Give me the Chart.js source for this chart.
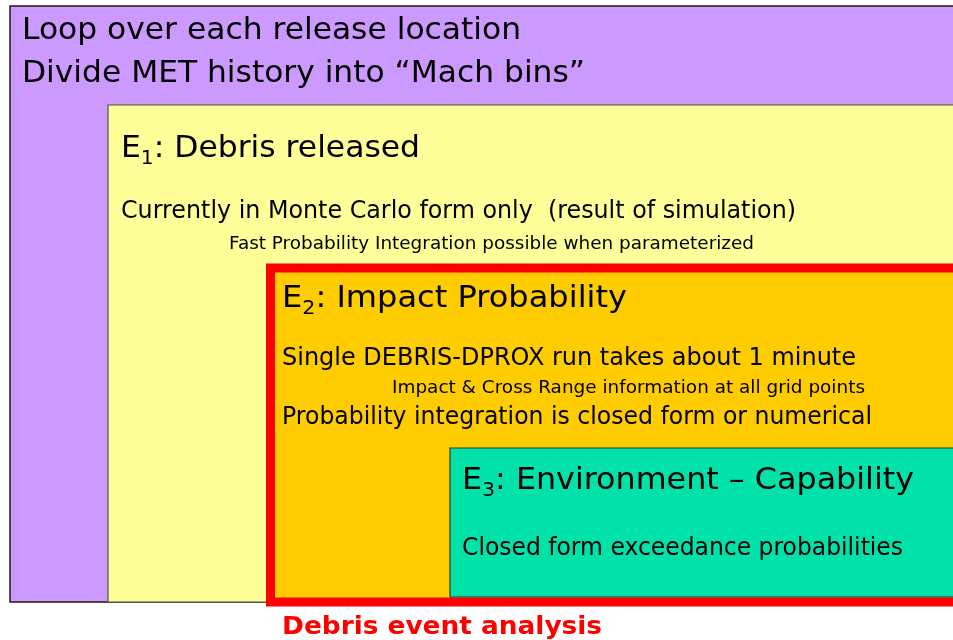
<!DOCTYPE html>
<html>
<head>
<meta charset="utf-8">
<script src="https://cdn.jsdelivr.net/npm/chart.js@4.4.0/dist/chart.umd.min.js"></script>
<style>
  html, body { margin: 0; padding: 0; background: #fff; }
  #wrap { width: 953px; height: 640px; }
</style>
</head>
<body>
<div id="wrap"><canvas id="diagram" width="953" height="640"></canvas></div>
<script>
// nested boxes, outermost first (units = diagram coords, y grows downward)
const boxNames = ['Loop', 'E1', 'E2', 'E3'];
const boxLeft = [10, 108, 270.5, 450];
const boxTop = [6, 105, 268, 448];
const boxRight = [980, 980, 980, 980];
const boxBottom = [602, 602, 602, 597];

const boxFill = ['#cc99ff', '#ffff99', '#ffcc00', '#00e2aa'];
const boxEdge = ['#1a1a1a', '#55553a', '#ff0000', '#2a3a30'];
const boxEdgeWidth = [1.5, 1.2, 9, 1.2];

// text lines: text, subscript, rest
const lineText = [
  'Loop over each release location',
  'Divide MET history into \u201cMach bins\u201d',
  'E', 'Currently in Monte Carlo form only  (result of simulation)',
  'Fast Probability Integration possible when parameterized',
  'E', 'Single DEBRIS-DPROX run takes about 1 minute',
  'Impact & Cross Range information at all grid points',
  'Probability integration is closed form or numerical',
  'E', 'Closed form exceedance probabilities',
  'Debris event analysis'
];
const lineSub = ['', '', '1', '', '', '2', '', '', '', '3', '', ''];
const lineRest = ['', '', ': Debris released', '', '', ': Impact Probability', '', '', '', ': Environment \u2013 Capability', '', ''];
const lineX = [22, 22, 121, 121, 229, 282, 282, 392, 282, 462, 462, 282];
const lineXEnd = [521, 585, 420, 796, 754, 627, 856, 865, 872, 914, 903, 602];
const lineY = [31, 74, 149, 212, 244, 299, 359, 388, 418, 481, 549, 627];

const lineSize = [31, 31, 31, 24, 18, 31, 24, 18, 24, 31, 24, 25];
const lineBold = [false, false, false, false, false, false, false, false, false, false, false, true];
const lineColor = ['#000', '#000', '#000', '#000', '#000', '#000', '#000', '#000', '#000', '#000', '#000', '#ff0000'];

const FONT = '"DejaVu Sans", Verdana, sans-serif';

// path starts mid top edge so the heavy border corners get proper joins
const datasets = boxNames.map((name, i) => {
  const mid = (boxLeft[i] + boxRight[i]) / 2;
  return {
    label: name,
    data: [
      {x: mid, y: boxTop[i]},
      {x: boxRight[i], y: boxTop[i]},
      {x: boxRight[i], y: boxBottom[i]},
      {x: boxLeft[i], y: boxBottom[i]},
      {x: boxLeft[i], y: boxTop[i]},
      {x: mid, y: boxTop[i]}
    ],
    showLine: true,
    fill: 'shape',
    backgroundColor: boxFill[i],
    borderColor: boxEdge[i],
    borderWidth: boxEdgeWidth[i],
    borderJoinStyle: 'miter',
    pointRadius: 0,
    tension: 0,
    order: boxNames.length - i
  };
});

const textPlugin = {
  id: 'boxText',
  afterDatasetsDraw(chart) {
    const ctx = chart.ctx;
    const xs = chart.scales.x, ys = chart.scales.y;
    ctx.save();
    ctx.textBaseline = 'middle';
    ctx.textAlign = 'left';
    lineText.forEach((txt, i) => {
      const size = lineSize[i];
      const mainFont = (lineBold[i] ? 'bold ' : '') + size + 'px ' + FONT;
      const subFont = Math.round(size * 0.65) + 'px ' + FONT;
      ctx.font = mainFont;
      const w = ctx.measureText(txt).width;
      let subW = 0, restW = 0;
      if (lineSub[i]) {
        ctx.font = subFont;
        subW = ctx.measureText(lineSub[i]).width;
        ctx.font = mainFont;
        restW = ctx.measureText(lineRest[i]).width;
      }
      const total = w + subW + restW;
      const x0 = xs.getPixelForValue(lineX[i]);
      const x1 = xs.getPixelForValue(lineXEnd[i]);
      const y = ys.getPixelForValue(lineY[i]);
      const k = (x1 - x0) / total;
      ctx.save();
      ctx.translate(x0, y);
      ctx.scale(k, 1);
      ctx.fillStyle = lineColor[i];
      ctx.font = mainFont;
      ctx.fillText(txt, 0, 0);
      if (lineSub[i]) {
        ctx.font = subFont;
        ctx.fillText(lineSub[i], w, size * 0.33);
        ctx.font = mainFont;
        ctx.fillText(lineRest[i], w + subW, 0);
      }
      ctx.restore();
    });
    ctx.restore();
  }
};

new Chart(document.getElementById('diagram').getContext('2d'), {
  type: 'scatter',
  data: { datasets },
  options: {
    responsive: false,
    animation: false,
    layout: { padding: 0 },
    plugins: { legend: { display: false }, tooltip: { enabled: false } },
    scales: {
      x: { type: 'linear', min: 0, max: 953, display: false },
      y: { type: 'linear', min: 0, max: 640, reverse: true, display: false }
    }
  },
  plugins: [textPlugin]
});
</script>
</body>
</html>
